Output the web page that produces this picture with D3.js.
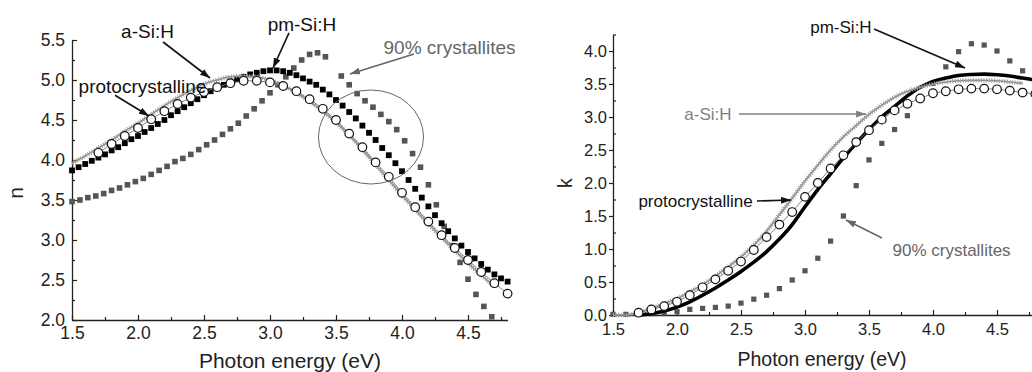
<!DOCTYPE html>
<html>
<head>
<meta charset="utf-8">
<script src="https://cdn.jsdelivr.net/npm/d3@7/dist/d3.min.js"></script>
<style>
  html, body { margin: 0; padding: 0; background: #fff; }
  svg { display: block; font-family: "Liberation Sans", Arial, Helvetica, sans-serif; }
</style>
</head>
<body>
<div id="chart"></div>
<script>
// ---------- data: refractive index n ----------
const nXTicks = [1.5, 2.0, 2.5, 3.0, 3.5, 4.0, 4.5];
const nXMinor = [1.75, 2.25, 2.75, 3.25, 3.75, 4.25, 4.75];
const nYTicks = [2.0, 2.5, 3.0, 3.5, 4.0, 4.5, 5.0, 5.5];
const nYMinor = [2.25, 2.75, 3.25, 3.75, 4.25, 4.75, 5.25];

const nASiEnergy = [1.5, 1.6, 1.7, 1.8, 1.9, 2.0, 2.1, 2.2, 2.3, 2.4, 2.5, 2.6, 2.7, 2.8, 2.9, 3.0, 3.1,
  3.2, 3.3, 3.4, 3.5, 3.6, 3.7, 3.8, 3.9, 4.0, 4.1, 4.2, 4.3, 4.4, 4.5, 4.6, 4.7];
const nASi = [3.96, 4.05, 4.15, 4.25, 4.36, 4.46, 4.57, 4.68, 4.78, 4.87, 4.95, 5.00, 5.04, 5.05, 5.04, 5.00, 4.93,
  4.84, 4.73, 4.61, 4.47, 4.31, 4.13, 3.94, 3.75, 3.56, 3.38, 3.20, 3.03, 2.87, 2.71, 2.56, 2.42];

const nProtoEnergy = [1.7, 1.8, 1.9, 2.0, 2.1, 2.2, 2.3, 2.4, 2.5, 2.6, 2.7, 2.8, 2.9, 3.0, 3.1, 3.2,
  3.3, 3.4, 3.5, 3.6, 3.7, 3.8, 3.9, 4.0, 4.1, 4.2, 4.3, 4.4, 4.5, 4.6, 4.7, 4.8];
const nProto = [4.09, 4.20, 4.30, 4.40, 4.51, 4.61, 4.70, 4.78, 4.85, 4.91, 4.96, 4.99, 4.99, 4.97, 4.925, 4.86,
  4.76, 4.64, 4.50, 4.33, 4.16, 3.97, 3.79, 3.59, 3.41, 3.23, 3.06, 2.90, 2.75, 2.60, 2.46, 2.33];

const nPmEnergy = [1.50, 1.55, 1.60, 1.65, 1.70, 1.75, 1.80, 1.85, 1.90, 1.95, 2.00, 2.05, 2.10, 2.15, 2.20, 2.25,
  2.30, 2.35, 2.40, 2.45, 2.50, 2.55, 2.60, 2.65, 2.70, 2.75, 2.80, 2.85, 2.90, 2.95, 3.00, 3.05, 3.10, 3.15,
  3.20, 3.25, 3.30, 3.35, 3.40, 3.45, 3.50, 3.55, 3.60, 3.65, 3.70, 3.75, 3.80, 3.85, 3.90, 3.95, 4.00, 4.05,
  4.10, 4.15, 4.20, 4.25, 4.30, 4.35, 4.40, 4.45, 4.50, 4.55, 4.60, 4.65, 4.70, 4.75, 4.80];
const nPm = [3.87, 3.91, 3.95, 3.99, 4.03, 4.07, 4.12, 4.16, 4.21, 4.26, 4.30, 4.35, 4.40, 4.45, 4.50, 4.56,
  4.61, 4.66, 4.71, 4.76, 4.81, 4.86, 4.90, 4.94, 4.98, 5.01, 5.04, 5.07, 5.09, 5.11, 5.12, 5.12, 5.11, 5.09,
  5.06, 5.02, 4.98, 4.94, 4.88, 4.82, 4.75, 4.68, 4.60, 4.52, 4.43, 4.34, 4.25, 4.15, 4.06, 3.96, 3.86, 3.75,
  3.64, 3.53, 3.42, 3.31, 3.21, 3.11, 3.02, 2.93, 2.85, 2.77, 2.70, 2.63, 2.57, 2.52, 2.48];

const nCrystEnergy = [1.50, 1.56, 1.62, 1.68, 1.74, 1.80, 1.86, 1.92, 1.98, 2.04, 2.10, 2.16, 2.22, 2.28, 2.34,
  2.40, 2.46, 2.52, 2.58, 2.64, 2.70, 2.76, 2.82, 2.88, 2.94, 3.00, 3.06, 3.12, 3.18, 3.24, 3.30, 3.36, 3.42,
  3.54, 3.60, 3.66, 3.72, 3.78, 3.84, 3.90, 3.96, 4.02, 4.08, 4.14, 4.20, 4.26, 4.32, 4.38, 4.44, 4.50, 4.56,
  4.62, 4.68];
const nCryst = [3.48, 3.50, 3.53, 3.55, 3.58, 3.62, 3.65, 3.69, 3.73, 3.77, 3.82, 3.87, 3.92, 3.98, 4.02,
  4.07, 4.13, 4.19, 4.25, 4.32, 4.39, 4.46, 4.55, 4.64, 4.74, 4.84, 4.94, 5.04, 5.15, 5.25, 5.32, 5.34, 5.29,
  5.05, 4.94, 4.83, 4.74, 4.66, 4.57, 4.48, 4.38, 4.24, 4.08, 3.91, 3.69, 3.44, 3.17, 2.93, 2.72, 2.51, 2.32,
  2.17, 2.04];

// ---------- data: extinction coefficient k ----------
const kXTicks = [1.5, 2.0, 2.5, 3.0, 3.5, 4.0, 4.5];
const kXMinor = [1.75, 2.25, 2.75, 3.25, 3.75, 4.25, 4.75];
const kYTicks = [0.0, 0.5, 1.0, 1.5, 2.0, 2.5, 3.0, 3.5, 4.0];
const kYMinor = [0.25, 0.75, 1.25, 1.75, 2.25, 2.75, 3.25, 3.75, 4.25];

const kASiEnergy = [1.5, 1.6, 1.7, 1.8, 1.9, 2.0, 2.1, 2.2, 2.3, 2.4, 2.5, 2.6, 2.7, 2.8, 2.9, 3.0, 3.1,
  3.2, 3.3, 3.4, 3.5, 3.6, 3.7, 3.8, 3.9, 4.0, 4.1, 4.2, 4.3, 4.4, 4.5, 4.6, 4.7];
const kASi = [0.00, 0.00, 0.04, 0.10, 0.17, 0.25, 0.35, 0.46, 0.59, 0.73, 0.88, 1.06, 1.27, 1.52, 1.77, 2.03, 2.27,
  2.50, 2.70, 2.87, 3.04, 3.18, 3.30, 3.39, 3.45, 3.50, 3.53, 3.55, 3.555, 3.555, 3.55, 3.53, 3.51];

const kProtoEnergy = [1.7, 1.8, 1.9, 2.0, 2.1, 2.2, 2.3, 2.4, 2.5, 2.6, 2.7, 2.8, 2.9, 3.0, 3.1, 3.2,
  3.3, 3.4, 3.5, 3.6, 3.7, 3.8, 3.9, 4.0, 4.1, 4.2, 4.3, 4.4, 4.5, 4.6, 4.7, 4.8];
const kProto = [0.035, 0.085, 0.135, 0.20, 0.30, 0.42, 0.54, 0.67, 0.81, 0.985, 1.18, 1.37, 1.56, 1.79, 2.00, 2.22,
  2.42, 2.62, 2.80, 2.96, 3.10, 3.20, 3.28, 3.36, 3.39, 3.42, 3.43, 3.43, 3.42, 3.40, 3.37, 3.35];

const kPmEnergy = [1.7, 1.8, 1.9, 2.0, 2.1, 2.2, 2.3, 2.4, 2.5, 2.6, 2.7, 2.8, 2.9, 3.0, 3.1, 3.2,
  3.3, 3.4, 3.5, 3.6, 3.7, 3.8, 3.9, 4.0, 4.1, 4.2, 4.3, 4.4, 4.5, 4.6, 4.7, 4.8];
const kPm = [0.00, 0.02, 0.06, 0.12, 0.20, 0.30, 0.41, 0.53, 0.66, 0.80, 0.96, 1.15, 1.37, 1.64, 1.90, 2.14,
  2.38, 2.60, 2.81, 3.00, 3.16, 3.32, 3.45, 3.54, 3.59, 3.63, 3.645, 3.65, 3.64, 3.62, 3.59, 3.56];

const kCrystEnergy = [1.5, 1.6, 1.7, 1.8, 1.9, 2.0, 2.1, 2.2, 2.3, 2.4, 2.5, 2.6, 2.7, 2.8, 2.9, 3.0, 3.1,
  3.2, 3.3, 3.4, 3.5, 3.6, 3.7, 3.8, 3.9, 4.0, 4.1, 4.2, 4.3, 4.4, 4.5, 4.6, 4.7, 4.8];
const kCryst = [0.01, 0.01, 0.01, 0.02, 0.03, 0.05, 0.085, 0.10, 0.115, 0.135, 0.18, 0.24, 0.30, 0.40, 0.53, 0.67, 0.86,
  1.12, 1.50, 1.96, 2.35, 2.60, 2.81, 3.02, 3.26, 3.51, 3.76, 3.99, 4.11, 4.09, 4.00, 3.85, 3.70, 3.56];

// ---------- annotations (data coordinates) ----------
const nNotes = [
  { text: 'a-Si:H', at: [2.072, 5.61], from: [2.19, 5.475], to: [2.545, 5.025], tone: 'dark' },
  { text: 'protocrystalline', at: [2.034, 4.925], from: [1.826, 4.81], to: [2.083, 4.55], tone: 'dark' },
  { text: 'pm-Si:H', at: [3.242, 5.69], from: [3.144, 5.59], to: [3.023, 5.15], tone: 'dark' },
  { text: '90% crystallites', at: [4.36, 5.41], from: [4.091, 5.325], to: [3.606, 5.075], tone: 'light' }
];
const kNotes = [
  { text: 'pm-Si:H', at: [3.281, 4.364], from: [3.539, 4.333], to: [4.25, 3.742], tone: 'dark' },
  { text: 'a-Si:H', at: [2.242, 3.045], from: [2.484, 3.045], to: [3.477, 3.045], tone: 'pale' },
  { text: 'protocrystalline', at: [2.145, 1.727], from: [2.625, 1.727], to: [2.891, 1.742], tone: 'dark' },
  { text: '90% crystallites', at: [4.145, 0.985], from: [3.602, 1.167], to: [3.32, 1.439], tone: 'light' }
];
const nEllipse = { center: [3.765, 4.2875], rx: 0.398, ry: 0.5875 };

// ---------- drawing ----------
const W = 1032, H = 372;
const toneColor = { dark: '#111', light: '#666', pale: '#808080' };

const svg = d3.select('#chart').append('svg')
  .attr('width', W).attr('height', H)
  .attr('viewBox', `0 0 ${W} ${H}`);

const defs = svg.append('defs');
Object.entries(toneColor).forEach(([id, c]) => {
  defs.append('marker')
    .attr('id', 'arrow-' + id)
    .attr('viewBox', '0 0 10 7')
    .attr('refX', 10).attr('refY', 3.5)
    .attr('markerWidth', 10).attr('markerHeight', 7)
    .attr('markerUnits', 'userSpaceOnUse')
    .attr('orient', 'auto')
    .append('path').attr('d', 'M0,0 L10,3.5 L0,7 z').attr('fill', c);
});

const zip = (xs, ys) => xs.map((x, i) => ({ x, y: ys[i] }));

function drawPanel(cfg) {
  const x = d3.scaleLinear().domain([1.5, 4.8]).range(cfg.xRange);
  const y = d3.scaleLinear().domain(cfg.yDomain).range(cfg.yRange);
  const g = svg.append('g');
  const fmt = d3.format('.1f');

  // axes (ticks point into the plot on x)
  const xAxis = g.append('g').attr('transform', `translate(0,${cfg.yRange[0]})`)
    .call(d3.axisBottom(x).tickValues(cfg.xTicks).tickFormat(fmt)
      .tickSizeInner(-5).tickSizeOuter(0).tickPadding(cfg.xPad));
  g.append('g').attr('transform', `translate(0,${cfg.yRange[0]})`)
    .call(d3.axisBottom(x).tickValues(cfg.xMinor).tickFormat('').tickSizeInner(-3).tickSizeOuter(0))
    .call(s => s.select('.domain').remove());
  const yAxis = g.append('g').attr('transform', `translate(${cfg.xRange[0]},0)`)
    .call(d3.axisLeft(y).tickValues(cfg.yTicks).tickFormat(fmt)
      .tickSizeInner(cfg.yMajorSize).tickSizeOuter(0).tickPadding(cfg.yPad));
  g.append('g').attr('transform', `translate(${cfg.xRange[0]},0)`)
    .call(d3.axisLeft(y).tickValues(cfg.yMinor).tickFormat('').tickSizeInner(-3).tickSizeOuter(0))
    .call(s => s.select('.domain').remove());

  g.selectAll('.domain').attr('stroke', '#222').attr('stroke-width', 1.3);
  g.selectAll('.tick line').attr('stroke', '#222').attr('stroke-width', 1.2);
  [xAxis, yAxis].forEach(a => a.selectAll('text')
    .attr('fill', '#222').style('font-size', cfg.tickFont + 'px')
    .style('font-family', '"Liberation Sans", Arial, sans-serif'));

  // axis titles
  g.append('text')
    .attr('x', cfg.titleX).attr('y', cfg.titleY)
    .attr('text-anchor', 'middle').attr('fill', '#222')
    .style('font-size', cfg.titleFont + 'px')
    .text('Photon energy (eV)');
  g.append('text')
    .attr('transform', `translate(${cfg.yLabelPos[0]},${cfg.yLabelPos[1]}) rotate(-90)`)
    .attr('text-anchor', 'middle').attr('fill', '#222')
    .style('font-size', cfg.titleFont + 'px')
    .text(cfg.yLabel);

  const line = d3.line().x(d => x(d.x)).y(d => y(d.y));
  const smooth = d3.line().curve(d3.curveMonotoneX).x(d => x(d.x)).y(d => y(d.y));

  // 90% crystallites: grey squares
  const sq = cfg.crystSize;
  g.selectAll('.cryst').data(zip(cfg.crystE, cfg.crystV)).enter()
    .append('rect').attr('class', 'cryst')
    .attr('x', d => x(d.x) - sq / 2).attr('y', d => y(d.y) - sq / 2)
    .attr('width', sq).attr('height', sq)
    .attr('fill', '#555');

  // pm-Si:H: black squares (n) or thick black line (k)
  const pm = zip(cfg.pmE, cfg.pmV);
  if (cfg.pmAsLine) {
    g.append('path').datum(pm).attr('d', smooth)
      .attr('fill', 'none').attr('stroke', '#000').attr('stroke-width', 3.6);
  } else {
    g.selectAll('.pm').data(pm).enter()
      .append('rect').attr('class', 'pm')
      .attr('x', d => x(d.x) - 2.9).attr('y', d => y(d.y) - 2.9)
      .attr('width', 5.8).attr('height', 5.8)
      .attr('fill', '#000');
  }

  // a-Si:H: grey line with dense tiny markers
  const asi = zip(cfg.asiE, cfg.asiV);
  g.append('path').datum(asi).attr('d', smooth)
    .attr('fill', 'none').attr('stroke', '#8c8c8c').attr('stroke-width', 1.6);
  g.append('path').datum(asi).attr('d', smooth)
    .attr('fill', 'none').attr('stroke', '#9c9c9c').attr('stroke-width', 4.4)
    .attr('stroke-dasharray', '1 1.6');

  // protocrystalline: open circles with thin connecting line
  const proto = zip(cfg.protoE, cfg.protoV);
  g.append('path').datum(proto).attr('d', line)
    .attr('fill', 'none').attr('stroke', '#777').attr('stroke-width', 0.9);
  g.selectAll('.proto').data(proto).enter()
    .append('circle').attr('class', 'proto')
    .attr('cx', d => x(d.x)).attr('cy', d => y(d.y)).attr('r', 4.3)
    .attr('fill', '#fff').attr('stroke', '#111').attr('stroke-width', 1.2);

  // circled region
  if (cfg.ellipse) {
    const e = cfg.ellipse;
    g.append('ellipse')
      .attr('cx', x(e.center[0])).attr('cy', y(e.center[1]))
      .attr('rx', x(e.center[0] + e.rx) - x(e.center[0]))
      .attr('ry', y(e.center[1]) - y(e.center[1] + e.ry))
      .attr('fill', 'none').attr('stroke', '#666').attr('stroke-width', 1);
  }

  // annotations
  cfg.notes.forEach(n => {
    const col = toneColor[n.tone];
    g.append('line')
      .attr('x1', x(n.from[0])).attr('y1', y(n.from[1]))
      .attr('x2', x(n.to[0])).attr('y2', y(n.to[1]))
      .attr('stroke', col).attr('stroke-width', 1.6)
      .attr('marker-end', `url(#arrow-${n.tone})`);
    g.append('text')
      .attr('x', x(n.at[0])).attr('y', y(n.at[1])).attr('dy', '0.35em')
      .attr('text-anchor', 'middle').attr('fill', col)
      .style('font-size', cfg.noteFont + 'px')
      .text(n.text);
  });
}

drawPanel({
  xRange: [72, 507.6], yDomain: [2.0, 5.5], yRange: [320, 40],
  xTicks: nXTicks, xMinor: nXMinor, yTicks: nYTicks, yMinor: nYMinor,
  xPad: 7, yPad: 7, yMajorSize: -5, tickFont: 17.5,
  titleX: 290, titleY: 368, titleFont: 21, yLabel: 'n', yLabelPos: [23, 193],
  crystE: nCrystEnergy, crystV: nCryst, crystSize: 5.6,
  pmE: nPmEnergy, pmV: nPm, pmAsLine: false,
  asiE: nASiEnergy, asiV: nASi,
  protoE: nProtoEnergy, protoV: nProto,
  ellipse: nEllipse, notes: nNotes, noteFont: 19
});

drawPanel({
  xRange: [613, 1035.4], yDomain: [0, 4.25], yRange: [315, 34.5],
  xTicks: kXTicks, xMinor: kXMinor, yTicks: kYTicks, yMinor: kYMinor,
  xPad: 8, yPad: 2, yMajorSize: 4, tickFont: 16.5,
  titleX: 822, titleY: 366, titleFont: 19.5, yLabel: 'k', yLabelPos: [572, 183],
  crystE: kCrystEnergy, crystV: kCryst, crystSize: 5.2,
  pmE: kPmEnergy, pmV: kPm, pmAsLine: true,
  asiE: kASiEnergy, asiV: kASi,
  protoE: kProtoEnergy, protoV: kProto,
  ellipse: null, notes: kNotes, noteFont: 17
});
</script>
</body>
</html>
